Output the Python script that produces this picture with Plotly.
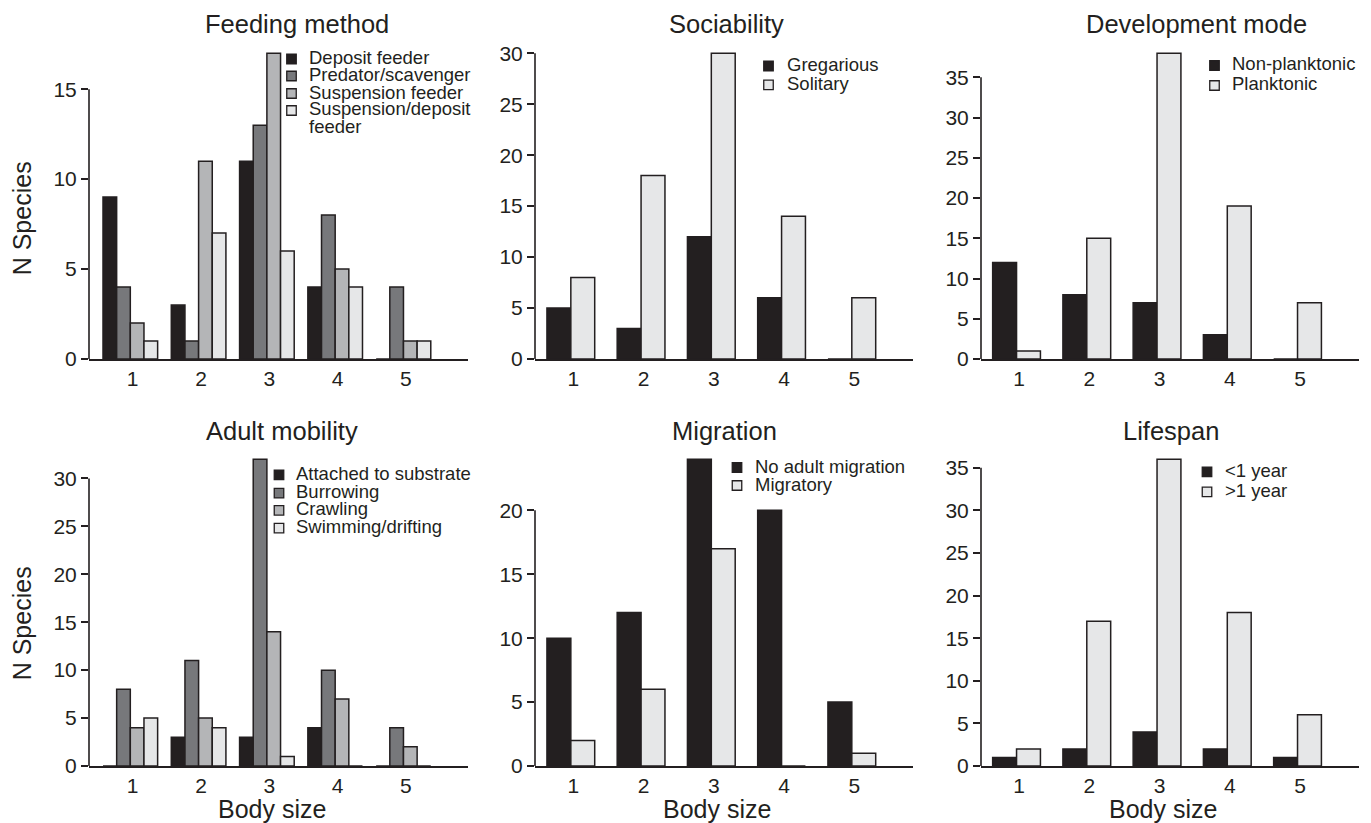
import plotly.graph_objects as go

# ---------------- data ----------------
categories = [1, 2, 3, 4, 5]
tick_labels = ["1", "2", "3", "4", "5"]

feeding_deposit = [9, 3, 11, 4, 0]
feeding_predator = [4, 1, 13, 8, 4]
feeding_suspension = [2, 11, 17, 5, 1]
feeding_susp_deposit = [1, 7, 6, 4, 1]

social_gregarious = [5, 3, 12, 6, 0]
social_solitary = [8, 18, 30, 14, 6]

dev_nonplanktonic = [12, 8, 7, 3, 0]
dev_planktonic = [1, 15, 38, 19, 7]

mob_attached = [0, 3, 3, 4, 0]
mob_burrowing = [8, 11, 32, 10, 4]
mob_crawling = [4, 5, 14, 7, 2]
mob_swimming = [5, 4, 1, 0, 0]

mig_none = [10, 12, 24, 20, 5]
mig_migratory = [2, 6, 17, 0, 1]

life_lt1 = [1, 2, 4, 2, 1]
life_gt1 = [2, 17, 36, 18, 6]

panel_titles = ["Feeding method", "Sociability", "Development mode",
                "Adult mobility", "Migration", "Lifespan"]
y_title = "N Species"
x_title = "Body size"

# ---------------- style ----------------
W, H = 1371, 823
INK = "#231f20"
C_BLACK = "#231f20"
C_DARK = "#77787b"
C_MID = "#b4b5b7"
C_LIGHT = "#e6e7e8"
FONT = "Liberation Sans, Arial, Helvetica, sans-serif"

def px_x(p):
    return p / W

def px_y(p):
    return 1 - p / H

panels = [
    dict(series=[("Deposit feeder", feeding_deposit, C_BLACK),
                 ("Predator/scavenger", feeding_predator, C_DARK),
                 ("Suspension feeder", feeding_suspension, C_MID),
                 ("Suspension/deposit feeder", feeding_susp_deposit, C_LIGHT)],
         legend_lines=[["Deposit feeder"], ["Predator/scavenger"], ["Suspension feeder"],
                       ["Suspension/deposit", "feeder"]],
         leg_rows=[57.5, 74.5, 92, 109, 126], leg_sq=291.5, leg_tx=307,
         col=0, row=0, title_x=296.5),
    dict(series=[("Gregarious", social_gregarious, C_BLACK),
                 ("Solitary", social_solitary, C_LIGHT)],
         legend_lines=[["Gregarious"], ["Solitary"]],
         leg_rows=[64.5, 83.3], leg_sq=768.5, leg_tx=785,
         col=1, row=0, title_x=727),
    dict(series=[("Non-planktonic", dev_nonplanktonic, C_BLACK),
                 ("Planktonic", dev_planktonic, C_LIGHT)],
         legend_lines=[["Non-planktonic"], ["Planktonic"]],
         leg_rows=[64, 84], leg_sq=1214.5, leg_tx=1229.5,
         col=2, row=0, title_x=1196),
    dict(series=[("Attached to substrate", mob_attached, C_BLACK),
                 ("Burrowing", mob_burrowing, C_DARK),
                 ("Crawling", mob_crawling, C_MID),
                 ("Swimming/drifting", mob_swimming, C_LIGHT)],
         legend_lines=[["Attached to substrate"], ["Burrowing"], ["Crawling"], ["Swimming/drifting"]],
         leg_rows=[473.3, 491.7, 508.8, 526.7], leg_sq=279, leg_tx=294,
         col=0, row=1, title_x=282),
    dict(series=[("No adult migration", mig_none, C_BLACK),
                 ("Migratory", mig_migratory, C_LIGHT)],
         legend_lines=[["No adult migration"], ["Migratory"]],
         leg_rows=[466, 484], leg_sq=737, leg_tx=752.7,
         col=1, row=1, title_x=724),
    dict(series=[("<1 year", life_lt1, C_BLACK),
                 (">1 year", life_gt1, C_LIGHT)],
         legend_lines=[["<1 year"], [">1 year"]],
         leg_rows=[470.3, 490.3], leg_sq=1207, leg_tx=1222.7,
         col=2, row=1, title_x=1171),
]

col_px = [(89, 468), (535, 913), (981, 1359)]
row_px = [(52, 359), (458, 766)]
col_xrange = [[0.36, 5.91], [0.455, 5.836], [0.459, 5.84]]
row_title_y = [23.7, 431]
xtitle_x = [271.7, 717, 1162.5]
xtitle_y = 809
ytitle_x = 22
ytitle_y = [218.3, 623.3]

fig = go.Figure()
annotations = []
shapes = []

for i, p in enumerate(panels):
    k = i + 1
    xa = "x" if k == 1 else f"x{k}"
    ya = "y" if k == 1 else f"y{k}"
    n = len(p["series"])
    bw = 0.2 if n == 4 else 0.34
    start = -0.035 - n * bw / 2
    ymax = max(max(s[1]) for s in p["series"])
    for j, (name, vals, color) in enumerate(p["series"]):
        fig.add_trace(go.Bar(
            x=categories, y=vals, name=name, xaxis=xa, yaxis=ya,
            width=bw, offset=start + j * bw,
            marker=dict(color=color, line=dict(color=INK, width=1.5)),
            showlegend=False,
        ))
    c0, c1 = col_px[p["col"]]
    r0, r1 = row_px[p["row"]]
    lastick = (ymax // 5) * 5
    axis_x = dict(domain=[px_x(c0), px_x(c1)], range=col_xrange[p["col"]],
                  anchor=ya, showgrid=False, zeroline=False, automargin=False,
                  showline=True, linecolor=INK, linewidth=1.6,
                  tickmode="array", tickvals=categories, ticktext=tick_labels,
                  ticks="outside", ticklen=0, tickcolor="rgba(0,0,0,0)",
                  tickfont=dict(family=FONT, size=21, color=INK))
    axis_y = dict(domain=[px_y(r1), px_y(r0)], range=[0, ymax * 1.004],
                  anchor=xa, showgrid=False, zeroline=False, showline=False, automargin=False,
                  tickmode="linear", tick0=0, dtick=5,
                  ticks="outside", ticklen=7, tickwidth=1.5, tickcolor=INK,
                  tickfont=dict(family=FONT, size=21, color=INK))
    key_x = "xaxis" if k == 1 else f"xaxis{k}"
    key_y = "yaxis" if k == 1 else f"yaxis{k}"
    fig.update_layout(**{key_x: axis_x, key_y: axis_y})

    # y axis line only up to the last tick
    shapes.append(dict(type="line", xref=f"{xa} domain", yref=ya,
                       x0=0, x1=0, y0=0, y1=lastick,
                       line=dict(color=INK, width=1.6)))

    # title
    annotations.append(dict(text=panel_titles[i], x=px_x(p["title_x"]), y=px_y(row_title_y[p["row"]]),
                            xref="paper", yref="paper", xanchor="center", yanchor="middle",
                            showarrow=False, font=dict(family=FONT, size=25.5, color=INK)))

    # legend (squares + text)
    row_idx = 0
    for j, lines in enumerate(p["legend_lines"]):
        color = p["series"][j][2]
        yc = p["leg_rows"][row_idx]
        sq = 9.5
        sy = yc + 1.5
        shapes.append(dict(type="rect", xref="paper", yref="paper",
                           x0=px_x(p["leg_sq"] - sq / 2), x1=px_x(p["leg_sq"] + sq / 2),
                           y0=px_y(sy + sq / 2), y1=px_y(sy - sq / 2),
                           fillcolor=color, line=dict(color=INK, width=1.3)))
        for line in lines:
            yc = p["leg_rows"][row_idx]
            annotations.append(dict(text=line, x=px_x(p["leg_tx"]), y=px_y(yc),
                                    xref="paper", yref="paper", xanchor="left", yanchor="middle",
                                    showarrow=False, font=dict(family=FONT, size=18.5, color=INK)))
            row_idx += 1

# axis titles
for r in range(2):
    annotations.append(dict(text=y_title, x=px_x(ytitle_x), y=px_y(ytitle_y[r]),
                            xref="paper", yref="paper", xanchor="center", yanchor="middle",
                            textangle=-90, showarrow=False,
                            font=dict(family=FONT, size=25, color=INK)))
for c in range(3):
    annotations.append(dict(text=x_title, x=px_x(xtitle_x[c]), y=px_y(xtitle_y),
                            xref="paper", yref="paper", xanchor="center", yanchor="middle",
                            showarrow=False, font=dict(family=FONT, size=25, color=INK)))

fig.update_layout(
    width=W, height=H,
    margin=dict(l=0, r=0, t=0, b=0, pad=0, autoexpand=False),
    paper_bgcolor="white", plot_bgcolor="white",
    barmode="overlay",
    showlegend=False,
    annotations=annotations,
    shapes=shapes,
    font=dict(family=FONT, color=INK),
)

fig.write_html("out.html", config={"displayModeBar": False},
               post_script="document.body.style.margin='0';document.body.style.overflow='hidden';")
